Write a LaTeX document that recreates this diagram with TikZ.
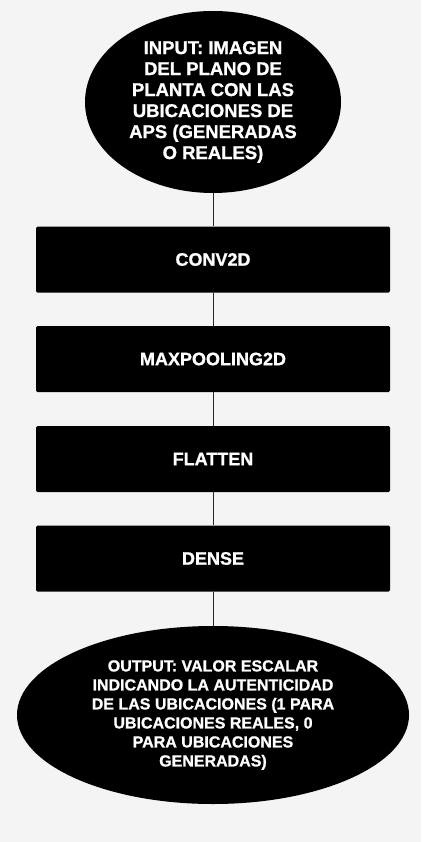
\documentclass[tikz,border=0pt]{standalone}
\usepackage{fontspec}
\setmainfont{Liberation Sans}[BoldFeatures={FakeBold=1}]
\usetikzlibrary{shapes.geometric}
\definecolor{bg}{HTML}{F4F4F4}
\begin{document}
\begin{tikzpicture}[x=1pt,y=-1pt,
  oval/.style={ellipse,fill=black,draw=none,inner sep=0pt,text=white,align=center,font=\bfseries},
  layerbox/.style={rectangle,fill=black,draw=none,rounded corners=1.5pt,minimum width=354pt,minimum height=66pt,inner sep=0pt,text=white,font=\fontsize{18}{21}\selectfont\bfseries},
  link/.style={draw=black!85,line width=1pt}]
\fill[bg] (0,0) rectangle (421,842);
\useasboundingbox (0,0) rectangle (421,842);
\node[oval,minimum width=256pt,minimum height=182pt,font=\fontsize{18.5}{21}\selectfont\bfseries] (in) at (213,102)
  {INPUT: IMAGEN\\DEL PLANO DE\\PLANTA CON LAS\\UBICACIONES DE\\APS (GENERADAS\\O REALES)};
\node[layerbox] (c1) at (213,259.5) {CONV2D};
\node[layerbox] (c2) at (213,359) {MAXPOOLING2D};
\node[layerbox] (c3) at (213,459) {FLATTEN};
\node[layerbox] (c4) at (213,558.5) {DENSE};
\node[oval,minimum width=392pt,minimum height=178pt,font=\fontsize{16}{19}\selectfont\bfseries] (out) at (213,715)
  {OUTPUT: VALOR ESCALAR\\INDICANDO LA AUTENTICIDAD\\DE LAS UBICACIONES (1 PARA\\UBICACIONES REALES, 0\\PARA UBICACIONES\\GENERADAS)};
\draw[link] (in) -- (c1);
\draw[link] (c1) -- (c2);
\draw[link] (c2) -- (c3);
\draw[link] (c3) -- (c4);
\draw[link] (c4) -- (out);
\end{tikzpicture}
\end{document}
